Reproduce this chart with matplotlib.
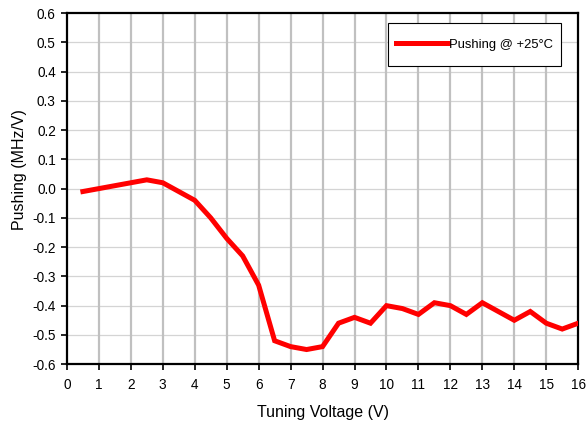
import numpy as np
import matplotlib
matplotlib.use("Agg")
import matplotlib.pyplot as plt
from matplotlib.patches import Rectangle

plt.rcParams["font.family"] = ["Liberation Sans", "DejaVu Sans"]

# tuning voltage (V) and pushing (MHz/V)
voltage = [0.5, 1.0, 1.5, 2.0, 2.5, 3.0, 3.5, 4.0, 4.5, 5.0, 5.5, 6.0, 6.5, 7.0, 7.5, 8.0,
           8.5, 9.0, 9.5, 10.0, 10.5, 11.0, 11.5, 12.0, 12.5, 13.0, 13.5, 14.0, 14.5, 15.0,
           15.5, 16.0]
pushing = [-0.01, 0.00, 0.01, 0.02, 0.03, 0.02, -0.01, -0.04, -0.10, -0.17, -0.23, -0.33,
           -0.52, -0.54, -0.55, -0.54, -0.46, -0.44, -0.46, -0.40, -0.41, -0.43, -0.39,
           -0.40, -0.43, -0.39, -0.42, -0.45, -0.42, -0.46, -0.48, -0.46]
yticks = [-0.6, -0.5, -0.4, -0.3, -0.2, -0.1, 0.0, 0.1, 0.2, 0.3, 0.4, 0.5, 0.6]

fig = plt.figure(figsize=(5.87, 4.21), dpi=100)
ax = fig.add_axes([0.114, 0.135, 0.871, 0.834])

ax.set_xlim(0, 16)
ax.set_ylim(-0.6, 0.6)
ax.set_xticks(range(0, 17))
ax.set_yticks(yticks)
ax.set_yticklabels([f"{v:.1f}" for v in yticks])

# vertical grid heavier than horizontal, like the original
for x in range(1, 16):
    ax.axvline(x, color="#c0c0c0", lw=1.6, zorder=1)
for y in yticks[1:-1]:
    ax.axhline(y, color="#d4d4d4", lw=0.9, zorder=0)

ax.plot(voltage, pushing, color="#ff0000", lw=3.6, solid_joinstyle="miter",
        label="Pushing @ +25°C", zorder=3)

for s in ax.spines.values():
    s.set_linewidth(1.6)
ax.tick_params(direction="out", length=4, width=1.2, labelsize=9.8, pad=4)
ax.tick_params(axis="x", pad=6)

ax.set_xlabel("Tuning Voltage (V)", fontsize=11.5, labelpad=9)
ax.set_ylabel("Pushing (MHz/V)", fontsize=11.5)
ax.yaxis.set_label_coords(-0.078, 0.555)

# legend box is taller than matplotlib's padding allows -> own frame behind it
ax.add_patch(Rectangle((0.628, 0.849), 0.339, 0.1225, transform=ax.transAxes,
                       facecolor="white", edgecolor="black", lw=0.8, zorder=4))
leg = ax.legend(loc="center", bbox_to_anchor=(0.7975, 0.910), fontsize=9.4,
                frameon=False, handlelength=4.0, handletextpad=0.05,
                borderpad=0.3, borderaxespad=0)
leg.set_zorder(5)

fig.savefig("out.png", dpi=100)
